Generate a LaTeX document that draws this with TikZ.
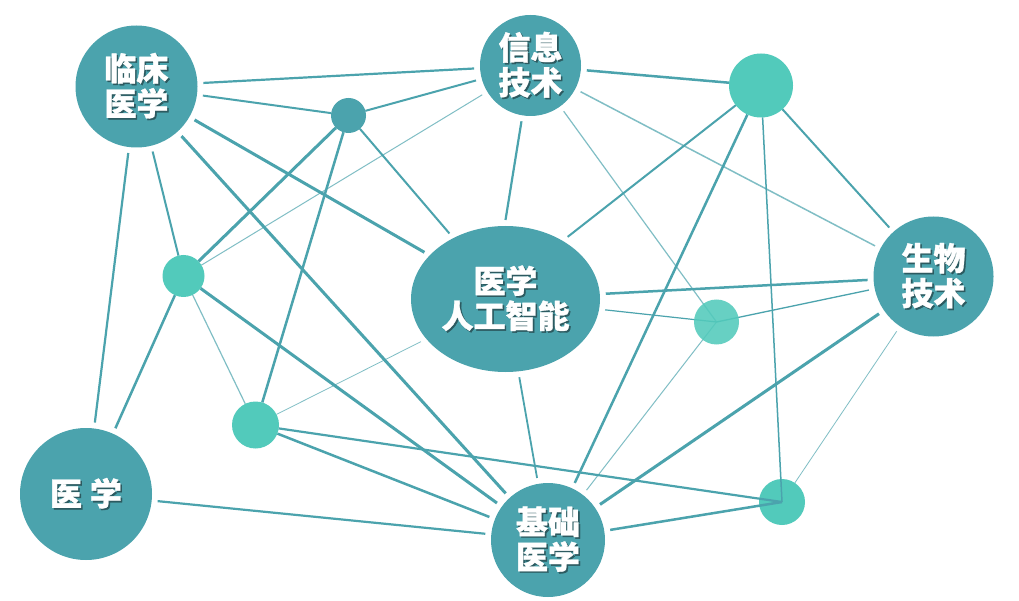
\documentclass[tikz,border=0pt]{standalone}
\usepackage{fontspec}
\newfontfamily\cjk{Noto Sans CJK SC}[BoldFeatures={FakeBold=1}]
\usetikzlibrary{shapes.geometric}
\definecolor{dteal}{HTML}{4BA3AD}
\definecolor{lteal}{HTML}{52CABB}
\definecolor{tshadow}{HTML}{2C5A60}
\newcommand{\stx}[1]{\makebox[0pt][l]{\hspace{1.6pt}\raisebox{-1.6pt}{\textcolor{tshadow}{#1}}}#1}
\pgfdeclarelayer{bg}
\pgfsetlayers{bg,main}
\tikzset{
  bignode/.style={circle,fill=dteal,inner sep=0pt,outer sep=6pt,text=white,align=center,
    font=\cjk\bfseries\fontsize{32}{35}\selectfont},
  smallnode/.style={circle,inner sep=0pt,outer sep=0pt},
  lk/.style={draw=dteal,line width=#1},
  lk/.default=2,
  faint/.style={draw opacity=0.7}
}
\begin{document}
\begin{tikzpicture}[x=1pt,y=-1pt]
\useasboundingbox (0,0) rectangle (1019,601);
% big nodes
\node[bignode,minimum size=122pt] (LC) at (136.5,86.5) {\stx{临床}\\\stx{医学}};
\node[bignode,minimum size=101pt] (XX) at (530.5,65.5) {\stx{信息}\\\stx{技术}};
\node[bignode,minimum size=120pt] (SW) at (933.5,276.5) {\stx{生物}\\\stx{技术}};
\node[bignode,minimum size=132pt] (YX) at (86,494) {\stx{医\hspace{8pt}学}};
\node[bignode,minimum size=114pt] (JC) at (548,540) {\stx{基础}\\\stx{医学}};
\node[bignode,ellipse,minimum width=189pt,minimum height=146pt] (AI) at (505.5,299) {\stx{医学}\\\stx{人工智能}};
% small nodes
\node[smallnode,fill=dteal,minimum size=35pt] (S1) at (348.5,115.5) {};
\node[smallnode,fill=lteal,minimum size=42pt] (S2) at (183.5,276) {};
\node[smallnode,fill=lteal,minimum size=64pt] (S3) at (761,85.5) {};
\node[smallnode,fill=lteal,fill opacity=0.88,minimum size=45pt] (S4) at (716.5,322) {};
\node[smallnode,fill=lteal,minimum size=47pt] (S5) at (255.5,425) {};
\node[smallnode,fill=lteal,minimum size=46pt] (S6) at (782,502) {};
\begin{pgfonlayer}{bg}
\fill[white] (0,0) rectangle (1019,601);
\draw[lk=2.2] (LC) -- (XX);
\draw[lk=2] (LC) -- (S1);
\draw[lk=2] (S1) -- (XX);
\draw[lk=3] (LC) -- (AI);
\draw[lk=3] (LC) -- (JC);
\draw[lk=2] (LC) -- (S2);
\draw[lk=2.2] (LC) -- (YX);
\draw[lk=3] (S1) -- (S2);
\draw[lk=2.5] (S1) -- (S5);
\draw[lk=2] (S1) -- (AI);
\draw[lk=1,faint] (XX) -- (S2);
\draw[lk=2.5] (XX) -- (S3);
\draw[lk=2.2] (XX) -- (AI.north);
\draw[lk=1.2,faint] (XX) -- (S4.center);
\draw[lk=1.5,faint] (XX) -- (SW);
\draw[lk=2] (S3) -- (AI.45);
\draw[lk=2.5] (S3) -- (JC);
\draw[lk=2] (S3) -- (SW);
\draw[lk=2.5] (AI) -- (SW);
\draw[lk=1.2] (AI) -- (S4.center);
\draw[lk=0.8,faint] (AI) -- (S5);
\draw[lk=1.8] (AI) -- (JC);
\draw[lk=1.3] (SW) -- (S4.center);
\draw[lk=3] (SW) -- (JC);
\draw[lk=0.8,faint] (SW) -- (S6);
\draw[lk=2.5] (S2) -- (YX);
\draw[lk=1.2,faint] (S2) -- (S5);
\draw[lk=3] (S2) -- (JC);
\draw[lk=2.5] (S5) -- (JC);
\draw[lk=2.2] (YX) -- (JC);
\draw[lk=1,faint] (S4.center) -- (JC);
\end{pgfonlayer}
% connectors drawn over the small node S6
\draw[lk=1.5] (S3) -- (S6.center);
\draw[lk=2.2] (S5) -- (S6.center);
\draw[lk=2.5] (JC) -- (S6.center);
\end{tikzpicture}
\end{document}
